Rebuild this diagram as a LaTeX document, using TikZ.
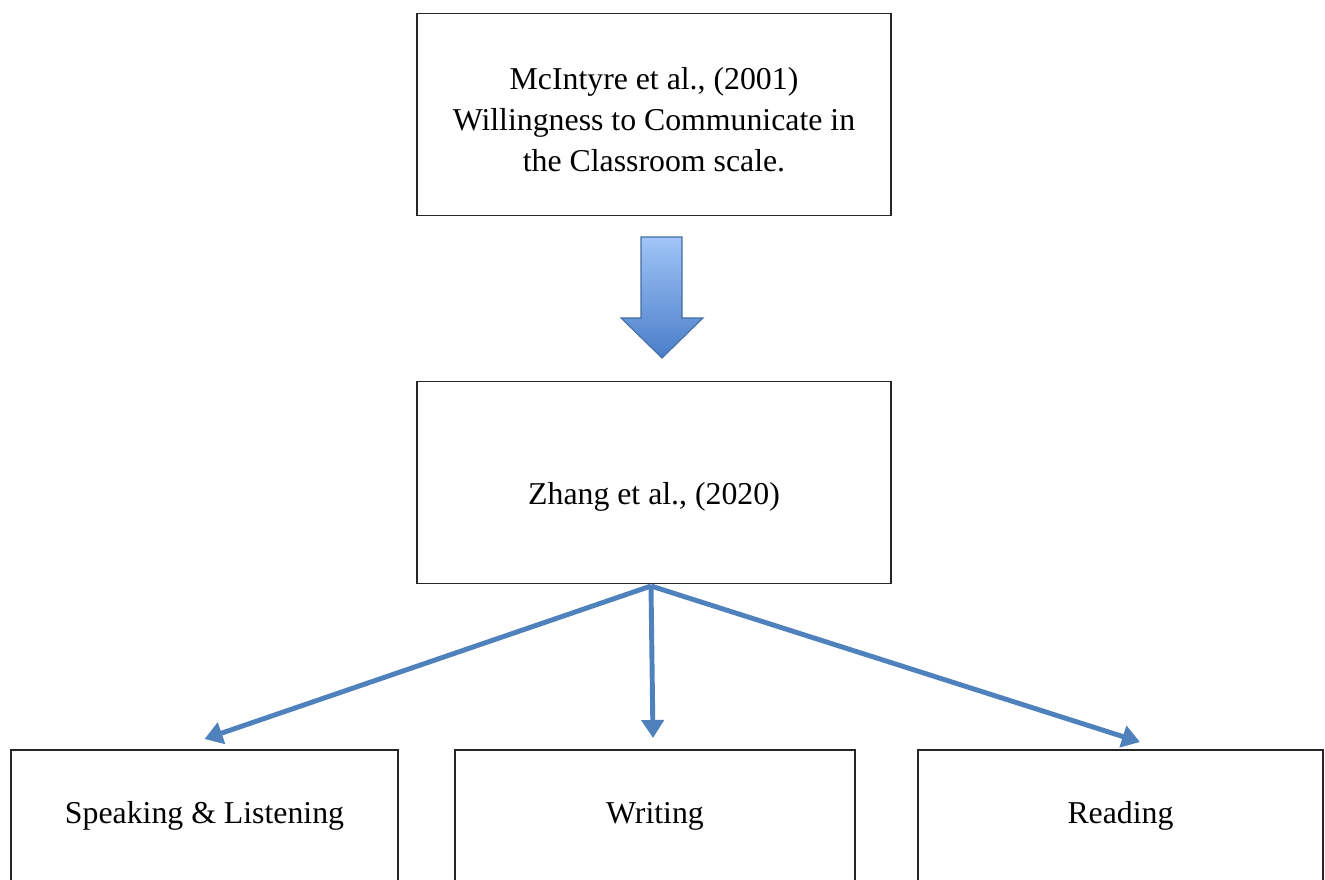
\documentclass[tikz,border=0pt]{standalone}
\usepackage{fontspec}
\setmainfont{Liberation Serif}
\usetikzlibrary{arrows.meta}

\definecolor{wordblue}{HTML}{4F81BD}
\definecolor{arrowtop}{HTML}{A0C5F7}
\definecolor{arrowbot}{HTML}{4A7DC9}

\begin{document}
\begin{tikzpicture}[x=0.02cm,y=-0.02cm,
  box/.style={draw=black!85,line width=0.85pt,inner sep=0pt,align=center,
    font=\fontsize{18.1}{23.3}\selectfont},
  bigbox/.style={box,anchor=north,minimum width=9.48cm,minimum height=4.04cm},
  link/.style={draw=wordblue,line width=2.8pt,-{Triangle[length=0.36cm,width=0.44cm]}}]

% Page size of the reference
\useasboundingbox (0,0) rectangle (1325,879);
\clip (0,0) rectangle (1325,879);

% Top and middle boxes
\node[bigbox,text height=3.15cm,text depth=0.89cm] (mcintyre) at (654,13)
  {McIntyre et al., (2001)\\Willingness to Communicate in\\the Classroom scale.};
\node[bigbox,text height=2.45cm,text depth=1.59cm] (zhang) at (654,381) {Zhang et al., (2020)};

% Big block arrow between them
\draw[draw=wordblue!85!black,top color=arrowtop,bottom color=arrowbot,line width=0.6pt]
  (641,237) -- (682,237) -- (682,318) -- (703,318) -- (662,358)
  -- (621,318) -- (641,318) -- cycle;

% Bottom row (boxes run off the page)
\foreach \name/\xc/\bw/\txt in {speak/204.5/7.74/Speaking \& Listening,
                                write/655/8.0/Writing,
                                read/1120.5/8.1/Reading} {
    \node[box,anchor=north,minimum width=\bw cm,text height=1.48cm,text depth=2.8cm]
      (\name) at (\xc,749) {\txt};
}

% Connectors from the split point
\coordinate (split) at (651,586);
\draw[link] (split) -- ([yshift=0.2cm]speak.north);
\draw[link] (split) -- ([xshift=-0.04cm,yshift=0.22cm]write.north);
\draw[link] (split) -- ([xshift=0.39cm,yshift=0.14cm]read.north);

\end{tikzpicture}
\end{document}
